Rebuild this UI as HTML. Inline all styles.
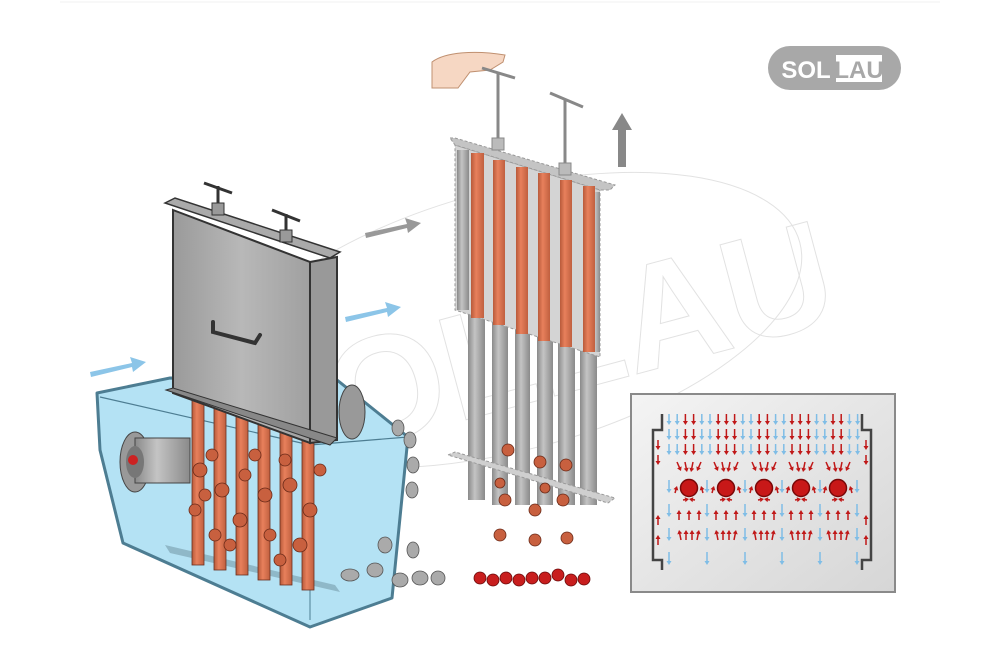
<!DOCTYPE html>
<html><head><meta charset="utf-8"><style>
html,body{margin:0;padding:0;background:#fff;width:1000px;height:666px;overflow:hidden}
svg{display:block}
</style></head><body>
<svg id="s" width="1000" height="666" viewBox="0 0 1000 666" xmlns="http://www.w3.org/2000/svg">
<defs>
<linearGradient id="gbox" x1="0" x2="1" y1="0" y2="0">
<stop offset="0" stop-color="#9a9a9a"/><stop offset="0.5" stop-color="#b8b8b8"/><stop offset="1" stop-color="#a0a0a0"/></linearGradient>
<linearGradient id="gin" x1="0" x2="1" y1="0" y2="1">
<stop offset="0" stop-color="#f4f4f4"/><stop offset="1" stop-color="#d6d6d6"/></linearGradient>
<linearGradient id="rod" x1="0" x2="1"><stop offset="0" stop-color="#b85a3a"/><stop offset="0.4" stop-color="#e8805c"/><stop offset="1" stop-color="#c0603f"/></linearGradient>
<linearGradient id="grod" x1="0" x2="1"><stop offset="0" stop-color="#8a8a8a"/><stop offset="0.4" stop-color="#c4c4c4"/><stop offset="1" stop-color="#8a8a8a"/></linearGradient>
</defs>
<line x1="60" y1="2" x2="940" y2="2" stroke="#f0f0f0"/>
<!-- watermark -->
<g fill="none" stroke="#e2e2e2" stroke-width="1">
<ellipse cx="510" cy="320" rx="300" ry="130" transform="rotate(-15 510 320)"/>
<text x="215" y="405" font-family="Liberation Sans,sans-serif" font-size="150" font-weight="bold" transform="rotate(-15 510 320)">SOLLAU</text>
</g>
<!-- logo -->
<rect x="768" y="46" width="133" height="44" rx="22" fill="#a8a8a8"/>
<rect x="836" y="55" width="46" height="27" fill="#fff"/>
<text x="806" y="78" text-anchor="middle" font-family="Liberation Sans,sans-serif" font-weight="bold" font-size="24" fill="#fff">SOL</text>
<text x="859" y="78" text-anchor="middle" font-family="Liberation Sans,sans-serif" font-weight="bold" font-size="24" fill="#a8a8a8">LAU</text>
<!-- tank -->
<polygon points="97,393 170,378 337,380 408,437 392,598 310,627 123,543 100,450" fill="#b4e2f4" stroke="#4d7d92" stroke-width="3" stroke-linejoin="round"/>
<polyline points="100,397 310,445 408,437" fill="none" stroke="#4d7d92" stroke-width="1.2"/>
<line x1="310" y1="445" x2="310" y2="620" stroke="#4d7d92" stroke-width="1"/>
<polygon points="165,545 335,585 340,592 170,553" fill="#8fb8c8"/>
<!-- side pipes -->
<ellipse cx="135" cy="462" rx="15" ry="30" fill="#999" stroke="#444"/>
<rect x="135" y="438" width="55" height="45" fill="url(#grod)" stroke="#444"/>
<ellipse cx="135" cy="462" rx="9" ry="16" fill="#777"/>
<circle cx="133" cy="460" r="5" fill="#c22"/>
<ellipse cx="352" cy="412" rx="13" ry="27" fill="#999" stroke="#444"/>
<!-- rods in tank -->
<g fill="url(#rod)" stroke="#6a3020" stroke-width="0.8">
<rect x="192" y="400" width="12" height="165"/><rect x="214" y="405" width="12" height="165"/>
<rect x="236" y="410" width="12" height="165"/><rect x="258" y="415" width="12" height="165"/>
<rect x="280" y="420" width="12" height="165"/><rect x="302" y="425" width="12" height="165"/>
</g>
<!-- parts in tank -->
<g fill="#c8603f" stroke="#6a2a18" stroke-width="0.8">
<circle cx="200" cy="470" r="7"/><circle cx="222" cy="490" r="7"/><circle cx="245" cy="475" r="6"/><circle cx="265" cy="495" r="7"/>
<circle cx="290" cy="485" r="7"/><circle cx="310" cy="510" r="7"/><circle cx="195" cy="510" r="6"/><circle cx="240" cy="520" r="7"/>
<circle cx="270" cy="535" r="6"/><circle cx="300" cy="545" r="7"/><circle cx="215" cy="535" r="6"/><circle cx="255" cy="455" r="6"/>
<circle cx="285" cy="460" r="6"/><circle cx="320" cy="470" r="6"/><circle cx="205" cy="495" r="6"/><circle cx="230" cy="545" r="6"/>
<circle cx="280" cy="560" r="6"/><circle cx="212" cy="455" r="6"/>
</g>
<!-- falling gray parts -->
<g fill="#aaa" stroke="#555" stroke-width="0.8">
<ellipse cx="398" cy="428" rx="6" ry="8"/><ellipse cx="410" cy="440" rx="6" ry="8"/><ellipse cx="413" cy="465" rx="6" ry="8"/><ellipse cx="412" cy="490" rx="6" ry="8"/>
<ellipse cx="385" cy="545" rx="7" ry="8"/><ellipse cx="413" cy="550" rx="6" ry="8"/><ellipse cx="350" cy="575" rx="9" ry="6"/>
<ellipse cx="375" cy="570" rx="8" ry="7"/><ellipse cx="400" cy="580" rx="8" ry="7"/><ellipse cx="420" cy="578" rx="8" ry="7"/><ellipse cx="438" cy="578" rx="7" ry="7"/>
</g>
<!-- cassette -->
<polygon points="173,210 310,262 310,443 173,393" fill="url(#gbox)" stroke="#333" stroke-width="2"/>
<polygon points="310,262 337,257 337,440 310,443" fill="#999" stroke="#333" stroke-width="2"/>
<polygon points="165,203 175,198 340,252 330,258" fill="#aaa" stroke="#333" stroke-width="1.5"/>
<polygon points="166,390 173,388 337,438 330,445" fill="#888" stroke="#333"/>
<path d="M213,322 L213,332 L255,343 L260,335" fill="none" stroke="#333" stroke-width="4" stroke-linecap="round"/>
<g stroke="#333" stroke-width="3"><line x1="204" y1="183" x2="232" y2="193"/><line x1="218" y1="186" x2="218" y2="205"/><line x1="272" y1="210" x2="300" y2="221"/><line x1="286" y1="214" x2="286" y2="233"/></g>
<rect x="212" y="203" width="12" height="12" fill="#999" stroke="#333"/><rect x="280" y="230" width="12" height="12" fill="#999" stroke="#333"/>
<!-- arrows -->
<g fill="#8cc5e8"><polygon points="90,372 132,363 130,357 146,362 133,372 132,367 91,377"/>
<polygon points="345,317 387,308 385,302 401,307 388,317 387,312 346,322"/></g>
<polygon points="365,233 407,224 405,218 421,223 408,233 407,228 366,238" fill="#999"/>
<polygon points="618,167 618,130 612,130 622,113 632,130 626,130 626,167" fill="#888"/>
<!-- hand -->
<path d="M432,62 C445,52 475,50 505,55 L503,62 L490,70 L470,72 L458,88 L432,88 Z" fill="#f6d7c3" stroke="#c09070"/>
<!-- right frame -->
<g>
<g fill="url(#grod)">
<rect x="468" y="300" width="17" height="200"/><rect x="492" y="310" width="16" height="195"/><rect x="515" y="315" width="15" height="190"/><rect x="537" y="320" width="16" height="185"/><rect x="558" y="330" width="17" height="175"/><rect x="580" y="335" width="17" height="170"/>
</g>
<polygon points="455,145 600,190 600,357 455,310" fill="#d4d4d4" stroke="#999" stroke-dasharray="3,2"/>
<polygon points="450,138 455,138 615,185 610,190 600,190 455,145" fill="#c4c4c4" stroke="#999" stroke-dasharray="3,2"/>
<g fill="url(#grod)"><rect x="457" y="150" width="12" height="160"/><rect x="592" y="192" width="8" height="160"/></g>
<g fill="url(#rod)">
<rect x="471" y="153" width="13" height="165"/><rect x="493" y="160" width="12" height="165"/><rect x="516" y="167" width="12" height="167"/><rect x="538" y="173" width="12" height="168"/><rect x="560" y="180" width="12" height="167"/><rect x="583" y="186" width="12" height="166"/>
</g>
<polygon points="448,455 455,452 615,498 608,503" fill="#cfcfcf" stroke="#999" stroke-dasharray="3,2"/>
<g stroke="#888" stroke-width="3"><line x1="498" y1="74" x2="498" y2="140"/><line x1="482" y1="68" x2="515" y2="78"/><line x1="565" y1="100" x2="565" y2="165"/><line x1="550" y1="93" x2="583" y2="107"/></g>
<rect x="492" y="138" width="12" height="12" fill="#bbb" stroke="#888"/><rect x="559" y="163" width="12" height="12" fill="#bbb" stroke="#888"/>
</g>
<!-- red parts fallen -->
<g fill="#c8603f" stroke="#6a2a18" stroke-width="0.8">
<circle cx="508" cy="450" r="6"/><circle cx="540" cy="462" r="6"/><circle cx="566" cy="465" r="6"/><circle cx="500" cy="483" r="5"/>
<circle cx="505" cy="500" r="6"/><circle cx="545" cy="488" r="5"/><circle cx="563" cy="500" r="6"/><circle cx="535" cy="510" r="6"/>
<circle cx="500" cy="535" r="6"/><circle cx="535" cy="540" r="6"/><circle cx="567" cy="538" r="6"/>
</g>
<g fill="#c81e1e" stroke="#6a0a0a" stroke-width="0.8">
<circle cx="480" cy="578" r="6"/><circle cx="493" cy="580" r="6"/><circle cx="506" cy="578" r="6"/><circle cx="519" cy="580" r="6"/><circle cx="532" cy="578" r="6"/><circle cx="545" cy="578" r="6"/><circle cx="558" cy="575" r="6"/><circle cx="571" cy="580" r="6"/><circle cx="584" cy="579" r="6"/>
</g>
<!-- inset -->
<rect x="631" y="394" width="264" height="198" fill="url(#gin)" stroke="#8a8a8a" stroke-width="2"/>
<path d="M662,414 L662,430 L653,430 L653,560 L662,560 L662,570" fill="none" stroke="#444" stroke-width="2.5"/>
<path d="M862,414 L862,430 L871,430 L871,560 L862,560 L862,570" fill="none" stroke="#444" stroke-width="2.5"/>
<g id="arr"></g>
<g fill="#c81818" stroke="#7a0808" stroke-width="1.5">
<circle cx="689" cy="488" r="8.5"/><circle cx="726" cy="488" r="8.5"/><circle cx="764" cy="488" r="8.5"/><circle cx="801" cy="488" r="8.5"/><circle cx="838" cy="488" r="8.5"/>
</g>
</svg>
<script>
(function(){
var g=document.getElementById('arr'),ns='http://www.w3.org/2000/svg';
function a(x,y,dx,dy,c){var l=document.createElementNS(ns,'line');
var len=Math.sqrt(dx*dx+dy*dy),ux=dx/len,uy=dy/len;
l.setAttribute('x1',x);l.setAttribute('y1',y);l.setAttribute('x2',x+dx-ux*3);l.setAttribute('y2',y+dy-uy*3);
l.setAttribute('stroke',c);l.setAttribute('stroke-width','1.5');g.appendChild(l);
var p=document.createElementNS(ns,'polygon'),tx=x+dx,ty=y+dy,px=-uy,py=ux;
p.setAttribute('points',tx+','+ty+' '+(tx-ux*4+px*2.5)+','+(ty-uy*4+py*2.5)+' '+(tx-ux*4-px*2.5)+','+(ty-uy*4-py*2.5));
p.setAttribute('fill',c);g.appendChild(p);}
var B='#7fbde6',R='#c01818';
var cx=[689,726,764,801,838];
for(var x=669;x<=858;x+=8.2){
 var near=cx.some(function(c){return Math.abs(x-c)<9;});
 var col=near?R:B;
 for(var r=0;r<3;r++)a(x,414+r*15,0,11,col);
}
cx.forEach(function(c){
 a(c-12,462,4,9,R);a(c+12,462,-4,9,R);a(c-4,462,2,10,R);a(c+4,462,-2,10,R);
 a(c-14,493,2,-7,R);a(c+14,493,-2,-7,R);a(c-6,500,6,-1,R);a(c+6,500,-6,-1,R);
 a(c-10,520,0,-10,R);a(c,520,0,-10,R);a(c+10,520,0,-10,R);
 a(c-8,540,-2,-10,R);a(c+8,540,2,-10,R);a(c-3,540,0,-10,R);a(c+3,540,0,-10,R);
});
[669,707,745,782,820,857].forEach(function(x){for(var r=0;r<4;r++)a(x,480+r*24,0,13,B);});
a(658,440,0,10,R);a(658,455,0,10,R);a(866,440,0,10,R);a(866,455,0,10,R);
a(658,545,0,-10,R);a(658,525,0,-10,R);a(866,545,0,-10,R);a(866,525,0,-10,R);
})();
</script>
</body></html>
